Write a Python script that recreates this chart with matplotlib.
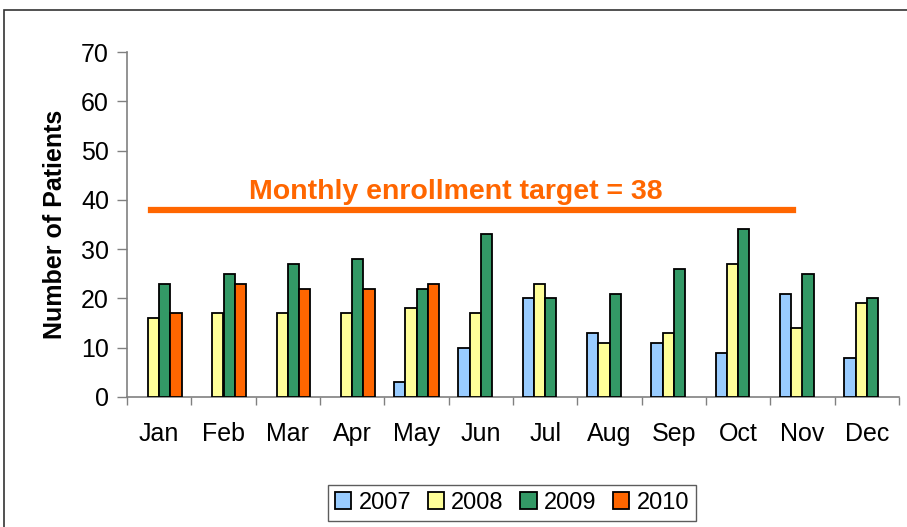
import matplotlib
matplotlib.use("Agg")
import matplotlib.pyplot as plt
from matplotlib.patches import Rectangle
import numpy as np

plt.rcParams['font.family'] = ['Liberation Sans', 'DejaVu Sans']

months = ["Jan", "Feb", "Mar", "Apr", "May", "Jun", "Jul", "Aug", "Sep", "Oct", "Nov", "Dec"]
y2007 = [0, 0, 0, 0, 3, 10, 20, 13, 11, 9, 21, 8]
y2008 = [16, 17, 17, 17, 18, 17, 23, 11, 13, 27, 14, 19]
y2009 = [23, 25, 27, 28, 22, 33, 20, 21, 26, 34, 25, 20]
y2010 = [17, 23, 22, 22, 23, 0, 0, 0, 0, 0, 0, 0]
series_names = ["2007", "2008", "2009", "2010"]
colors = ["#99CCFF", "#FFFF99", "#339966", "#FF6600"]
target = 38
target_label = "Monthly enrollment target = 38"
yticks = [0, 10, 20, 30, 40, 50, 60, 70]

fig = plt.figure(figsize=(9.07, 5.27), dpi=100)
ax = fig.add_axes([127/907, 1-397/527, 772/907, 345/527])

# outer frame
fig.patches.append(Rectangle((4/907, -0.1), 1.2, 1-10/527+0.1, transform=fig.transFigure,
                             fill=False, edgecolor="#333333", linewidth=1.2))

x = np.arange(len(months))
w = 0.176
data = [y2007, y2008, y2009, y2010]
handles = []
for i, (vals, c, name) in enumerate(zip(data, colors, series_names)):
    xs = x + (i - 1.5) * w
    vals = np.array(vals, dtype=float)
    mask = vals > 0
    b = ax.bar(xs[mask], vals[mask], width=w, color=c, edgecolor="black", linewidth=1.3, label=name, zorder=3)
    handles.append(b)

ax.set_xlim(-0.5, len(months) - 0.5)
ax.set_ylim(0, 70)

# target line
ax.axhline(target, xmin=24/772, xmax=666/772, color="#FF6600", linewidth=4.5, zorder=4)
ax.text(0.426, (target + 3.6) / 70, target_label, transform=ax.transAxes, ha="center", va="center",
        color="#FF6600", fontsize=20.5, fontweight="bold")

for s in ["top", "right"]:
    ax.spines[s].set_visible(False)
for s in ["left", "bottom"]:
    ax.spines[s].set_color("#808080")
    ax.spines[s].set_linewidth(1.2)

ax.set_yticks(yticks)
ax.tick_params(axis="y", direction="out", length=7, width=1, color="#808080", labelsize=18, pad=6)
ax.set_xticks(np.arange(len(months) + 1) - 0.5)
ax.set_xticklabels([])
ax.tick_params(axis="x", which="major", direction="out", length=6, width=1, color="#808080")
ax.set_xticks(x, minor=True)
ax.set_xticklabels(months, minor=True)
ax.tick_params(axis="x", which="minor", length=0, labelsize=18, pad=18)

ax.set_ylabel("Number of Patients", fontsize=18, fontweight="bold", labelpad=10)

leg = fig.legend(handles=handles, labels=series_names, loc="center", bbox_to_anchor=(512/907, 1-503/527),
                 ncol=4, fontsize=17, frameon=True, fancybox=False, edgecolor="#333333",
                 handlelength=0.7, handleheight=0.7, handletextpad=0.3, columnspacing=0.7,
                 borderpad=0.3)
leg.get_frame().set_linewidth(1.0)

fig.savefig("out.png", dpi=100)
